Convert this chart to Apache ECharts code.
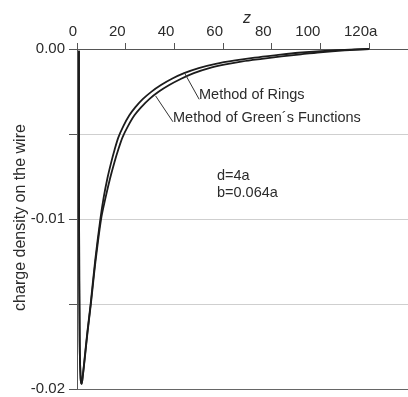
<!DOCTYPE html>
<html>
<head>
<meta charset="utf-8">
<script src="https://cdn.jsdelivr.net/npm/echarts@6/dist/echarts.min.js"></script>
<style>
html,body{margin:0;padding:0;background:#fff;}
#chart{width:408px;height:397px;}
</style>
</head>
<body>
<div id="chart"></div>
<script>
// ---- data ----
const xTicks = [0, 20, 40, 60, 80, 100, 120];
const yTicks = [0, -0.005, -0.01, -0.015, -0.02];

const zRings = [0.8, 0.85, 1.1, 1.5, 1.9, 2.4, 3.2, 4.3, 5.6, 7.5, 9.6, 11, 12.5, 14, 15.5, 17, 19, 21.5, 24, 27, 30.5, 34.5, 39, 44, 50, 57, 65, 73, 82, 91, 100, 110, 120];
const rings  = [-0.0001, -0.010, -0.0172, -0.0194, -0.0197, -0.0192, -0.0181, -0.0166, -0.0150, -0.0124, -0.0100, -0.0087, -0.0076, -0.0067, -0.0059, -0.0052, -0.00455, -0.0039, -0.00342, -0.00295, -0.00252, -0.00212, -0.00175, -0.00142, -0.00112, -0.00087, -0.00067, -0.00051, -0.00036, -0.00022, -0.00012, -0.00005, 0];

const zGreen = [0.8, 0.85, 1.1, 1.5, 1.9, 2.4, 3.2, 4.3, 5.7, 7.6, 9.9, 11.8, 13.6, 15.3, 17.0, 18.7, 20.9, 23.6, 26.4, 29.7, 33.5, 37.9, 42.8, 48, 54, 61, 68, 76, 84, 92, 100, 110, 120];
const green  = [-0.0001, -0.010, -0.0172, -0.0194, -0.0197, -0.0192, -0.0182, -0.0167, -0.0150, -0.0125, -0.0100, -0.0087, -0.0076, -0.0067, -0.0059, -0.0052, -0.00455, -0.0039, -0.00342, -0.00295, -0.00252, -0.00212, -0.00175, -0.00142, -0.00114, -0.00091, -0.00073, -0.00058, -0.00044, -0.00031, -0.00019, -0.00008, 0];

const labelRings = 'Method of Rings';
const labelGreen = 'Method of Green´s Functions';
const pointerRings = [[50.2, -0.00296], [44.1, -0.00139]];
const pointerGreen = [[39.4, -0.00428], [32.3, -0.00276]];
const paramText = ['d=4a', 'b=0.064a'];

// ---- chart ----
const zip = (a, b) => a.map((v, i) => [v, b[i]]);
const FONT = '"Liberation Sans", Arial, sans-serif';
const TXT = '#2b2b2b';
const AX = '#555';

const chart = echarts.init(document.getElementById('chart'), null, {renderer: 'canvas'});
chart.setOption({
  animation: false,
  backgroundColor: '#fff',
  grid: {left: 77, top: 49, right: 0, bottom: 8, containLabel: false, outerBoundsMode: 'none'},
  xAxis: {
    type: 'value', position: 'top', min: 0, max: 136, interval: 20,
    name: 'z', nameLocation: 'middle', nameGap: 22, nameMoveOverlap: false,
    nameTextStyle: {fontFamily: FONT, fontSize: 16, fontStyle: 'italic', color: TXT, padding: [0, 0, 0, 9]},
    axisLine: {show: true, onZero: false, lineStyle: {color: AX, width: 1}},
    axisTick: {show: true, inside: false, length: 6, lineStyle: {color: AX}},
    axisLabel: {
      show: true, margin: 10, align: 'center', fontFamily: FONT, fontSize: 15, color: TXT,
      formatter: v => {
        if (!xTicks.includes(v)) return '';
        return v === 120 ? '120a{h|12}' : String(v) + '{h|' + v + '}';
      },
      rich: {h: {fontFamily: FONT, fontSize: 15, color: 'rgba(0,0,0,0)'}}
    },
    splitLine: {show: false}
  },
  yAxis: {
    type: 'value', min: -0.02, max: 0, interval: 0.005,
    name: 'charge density on the wire', nameLocation: 'middle', nameGap: 48, nameMoveOverlap: false,
    nameTextStyle: {fontFamily: FONT, fontSize: 16, color: TXT, padding: [0, 0, 0, 3]},
    axisLine: {show: true, onZero: false, lineStyle: {color: AX, width: 1}},
    axisTick: {show: true, inside: false, length: 8, lineStyle: {color: AX}},
    axisLabel: {
      margin: 12, fontFamily: FONT, fontSize: 15, color: TXT,
      formatter: v => {
        const k = Math.round(v / 0.005);
        return (k % 2 === 0) ? (k === 0 ? '0.00' : v.toFixed(2)) : '';
      }
    },
    splitLine: {show: true, showMinLine: true, showMaxLine: true,
      lineStyle: {color: ['#666', '#cfcfcf', '#cfcfcf', '#cfcfcf', '#666'], width: 1}}
  },
  series: [
    {
      name: labelRings, type: 'line', data: zip(zRings, rings),
      showSymbol: false, smooth: 0.3,
      lineStyle: {color: '#1c1c1c', width: 1.8},
      markLine: {
        silent: true, symbol: ['none', 'none'], label: {show: false},
        lineStyle: {color: '#333', width: 1, type: 'solid'},
        data: [[{coord: pointerRings[0]}, {coord: pointerRings[1]}]]
      }
    },
    {
      name: labelGreen, type: 'line', data: zip(zGreen, green),
      showSymbol: false, smooth: 0.3,
      lineStyle: {color: '#1c1c1c', width: 1.8},
      markLine: {
        silent: true, symbol: ['none', 'none'], label: {show: false},
        lineStyle: {color: '#333', width: 1, type: 'solid'},
        data: [[{coord: pointerGreen[0]}, {coord: pointerGreen[1]}]]
      }
    }
  ],
  graphic: [
    {type: 'text', left: 199, top: 87, style: {text: labelRings, font: '14.5px ' + FONT, fill: TXT}},
    {type: 'text', left: 173, top: 110, style: {text: labelGreen, font: '14.5px ' + FONT, fill: TXT}},
    {type: 'text', left: 217, top: 168, style: {text: paramText.join('\n'), font: '14.5px ' + FONT, fill: TXT, lineHeight: 16.6}}
  ]
});
</script>
</body>
</html>
